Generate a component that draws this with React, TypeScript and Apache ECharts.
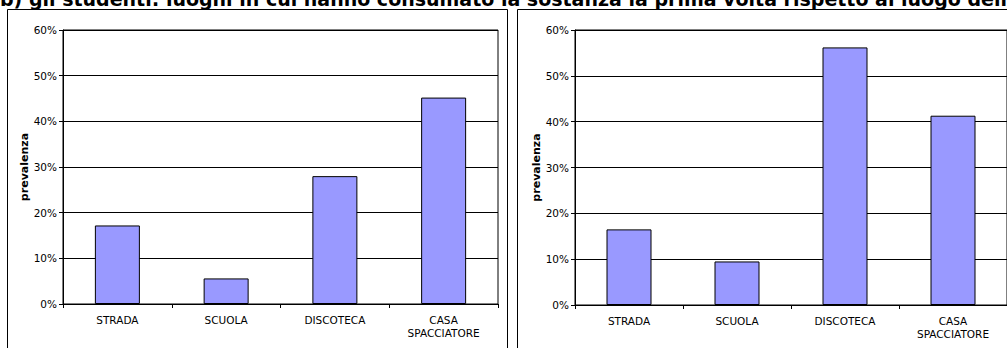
import React, { useEffect, useRef } from "react";
import * as echarts from "echarts";

const categories = ["STRADA", "SCUOLA", "DISCOTECA", "CASA\nSPACCIATORE"];
const leftValues = [17.2, 5.6, 28.0, 45.2];
const rightValues = [16.5, 9.5, 56.2, 41.3];
const yAxisName = "prevalenza";
const titleText =
  "b) gli studenti: luoghi in cui hanno consumato la sostanza la prima volta rispetto al luogo dell'ultima volta, per luogo";

const FONT = "'DejaVu Sans', Verdana, sans-serif";

function makeXAxis(gridIndex: number) {
  return {
    type: "category",
    gridIndex,
    data: categories,
    axisLine: { show: true, lineStyle: { color: "#000", width: 1 } },
    axisTick: { show: true, length: 4, lineStyle: { color: "#000" } },
    axisLabel: {
      color: "#000",
      fontFamily: FONT,
      fontSize: 10.5,
      margin: 9,
      lineHeight: 13,
      interval: 0,
    },
  };
}

function makeYAxis(gridIndex: number) {
  return {
    type: "value",
    gridIndex,
    min: 0,
    max: 60,
    interval: 10,
    name: yAxisName,
    nameLocation: "middle",
    nameRotate: 90,
    nameGap: 24,
    nameTextStyle: {
      color: "#000",
      fontFamily: FONT,
      fontSize: 11,
      fontWeight: "bold",
    },
    axisLine: { show: true, lineStyle: { color: "#000", width: 1 } },
    axisTick: { show: true, length: 4, lineStyle: { color: "#000" } },
    axisLabel: {
      color: "#000",
      fontFamily: FONT,
      fontSize: 10.5,
      margin: 6,
      formatter: "{value}%",
    },
    splitLine: { show: true, lineStyle: { color: "#000", width: 1 } },
  };
}

function makeSeries(idx: number, data: number[]) {
  return {
    type: "bar",
    xAxisIndex: idx,
    yAxisIndex: idx,
    data,
    barWidth: 45,
    itemStyle: { color: "#9999FF", borderColor: "#000", borderWidth: 1 },
    silent: true,
  };
}

export default function App() {
  const ref = useRef<HTMLDivElement>(null);
  useEffect(() => {
    if (!ref.current) return;
    const chart = echarts.init(ref.current, null, { renderer: "svg" });
    chart.setOption({
      animation: false,
      backgroundColor: "#fff",
      grid: [
        { left: 63, top: 30, width: 435, height: 274, show: true, borderColor: "#000", borderWidth: 1, containLabel: false },
        { left: 575, top: 30, width: 434, height: 275, show: true, borderColor: "#000", borderWidth: 1, containLabel: false },
      ],
      xAxis: [makeXAxis(0), makeXAxis(1)],
      yAxis: [makeYAxis(0), makeYAxis(1)],
      series: [makeSeries(0, leftValues), makeSeries(1, rightValues)],
      graphic: [
        {
          type: "rect",
          z: -10,
          shape: { x: 7.5, y: 9.5, width: 500, height: 400 },
          style: { fill: "none", stroke: "#000", lineWidth: 1 },
        },
        {
          type: "rect",
          z: -10,
          shape: { x: 517.5, y: 9.5, width: 600, height: 400 },
          style: { fill: "none", stroke: "#000", lineWidth: 1 },
        },
        {
          type: "text",
          x: 0,
          y: 8,
          style: {
            text: titleText,
            fontFamily: FONT,
            fontSize: 19,
            fontWeight: "bold",
            fill: "#000",
            verticalAlign: "bottom",
            align: "left",
          },
        },
      ],
    });
    return () => chart.dispose();
  }, []);
  return (
    <div
      ref={ref}
      style={{ position: "fixed", left: 0, top: 0, width: 1007, height: 348, background: "#fff" }}
    />
  );
}
